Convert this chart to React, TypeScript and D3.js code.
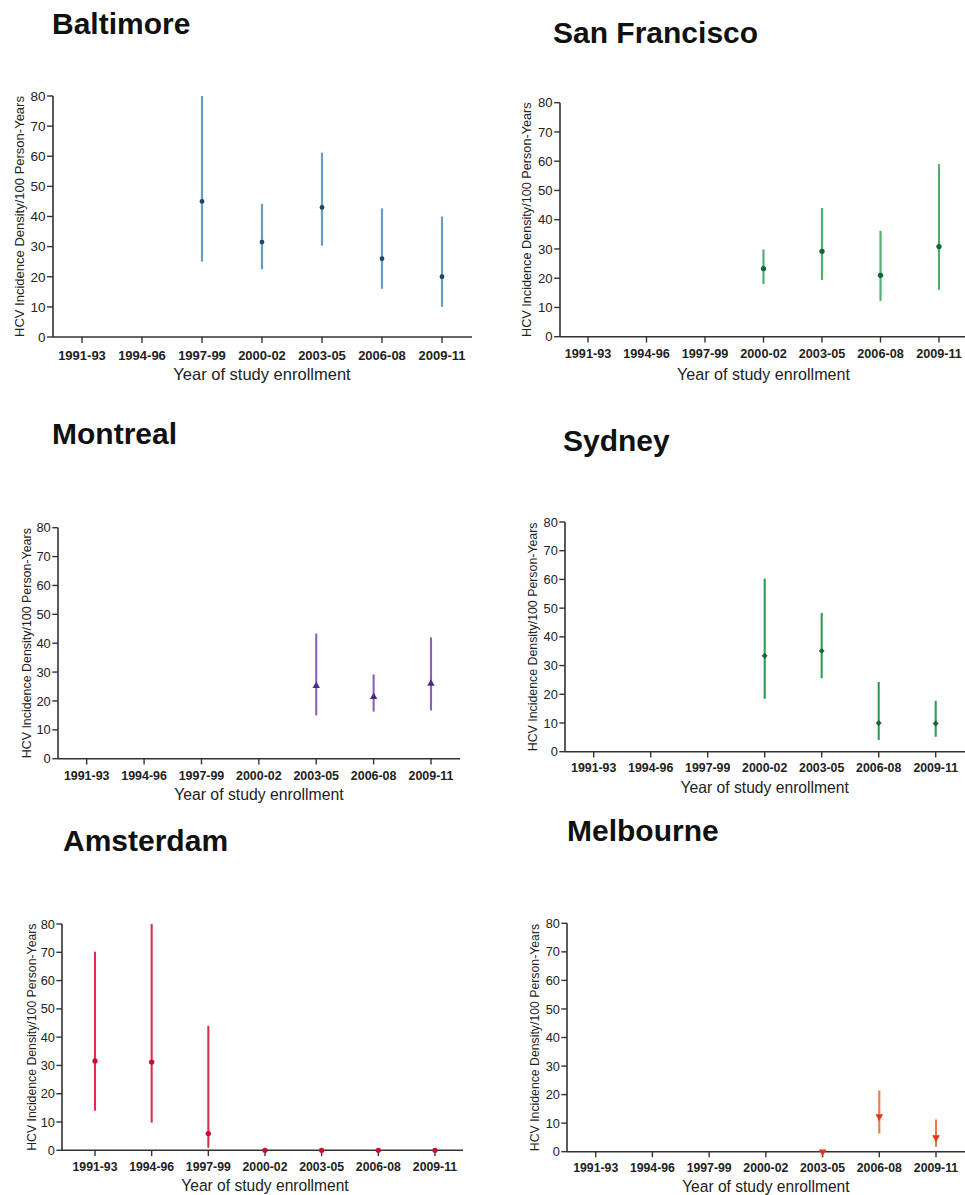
import { scaleLinear, scalePoint, symbol, symbolCircle, symbolTriangle, symbolDiamond2 } from 'd3'

const width = 965,
      height = 1195

const periods = ['1991-93', '1994-96', '1997-99', '2000-02', '2003-05', '2006-08', '2009-11']
const yTicks = [0, 10, 20, 30, 40, 50, 60, 70, 80]

// incidence per 100 person-years, with 95% CI (null = no estimate)
const baltimoreRate = [null, null, 45, 31.5, 43, 26, 20]
const baltimoreLow = [null, null, 25, 22.5, 30.3, 16, 10]
const baltimoreHigh = [null, null, 80, 44.2, 61.2, 42.7, 40]

const sanFranciscoRate = [null, null, null, 23.3, 29.2, 21, 30.8]
const sanFranciscoLow = [null, null, null, 18, 19.4, 12.2, 16]
const sanFranciscoHigh = [null, null, null, 29.8, 44, 36.2, 59]

const montrealRate = [null, null, null, null, 25.2, 21.4, 26]
const montrealLow = [null, null, null, null, 15, 16.3, 16.7]
const montrealHigh = [null, null, null, null, 43.3, 29.2, 42]

const sydneyRate = [null, null, null, 33.4, 35.1, 10, 9.8]
const sydneyLow = [null, null, null, 18.4, 25.6, 4.1, 5.2]
const sydneyHigh = [null, null, null, 60.3, 48.3, 24.3, 17.7]

const amsterdamRate = [31.6, 31.2, 5.9, 0, 0, 0, 0]
const amsterdamLow = [14, 9.8, 0.9, 0, 0, 0, 0]
const amsterdamHigh = [70.2, 80, 44, 0, 0, 0, 0]

const melbourneRate = [null, null, null, null, 0, 12.3, 5]
const melbourneLow = [null, null, null, null, 0, 6.4, 1.7]
const melbourneHigh = [null, null, null, null, 0, 21.4, 11.3]

// layout of each small chart (pixel geometry)
const panels = [
  { title: 'Baltimore', rate: baltimoreRate, low: baltimoreLow, high: baltimoreHigh,
    bar: '#6a9dc1', mark: '#174a6e', shape: 'circle', msize: 18,
    tx: 52, ty: 34, x0: 53, yTop: 96, yBot: 337, xFirst: 82, xLast: 442, xEnd: 472,
    labelX: 19, tickDy: 23, titleDy: 43 },
  { title: 'San  Francisco', rate: sanFranciscoRate, low: sanFranciscoLow, high: sanFranciscoHigh,
    bar: '#4fae6c', mark: '#0a6a34', shape: 'circle', msize: 22,
    tx: 553, ty: 43, x0: 560, yTop: 102.7, yBot: 336.7, xFirst: 588, xLast: 939, xEnd: 965,
    labelX: 527, tickDy: 21.3, titleDy: 43.3 },
  { title: 'Montreal', rate: montrealRate, low: montrealLow, high: montrealHigh,
    bar: '#8d62b6', mark: '#4b2a88', shape: 'up', msize: 24,
    tx: 52, ty: 444, x0: 58, yTop: 527.7, yBot: 758.7, xFirst: 86.7, xLast: 431, xEnd: 460,
    labelX: 27, tickDy: 21.3, titleDy: 41.3 },
  { title: 'Sydney', rate: sydneyRate, low: sydneyLow, high: sydneyHigh,
    bar: '#2f9a52', mark: '#0d6a35', shape: 'diamond', msize: 22,
    tx: 563, ty: 451, x0: 565, yTop: 522, yBot: 751.7, xFirst: 593.7, xLast: 935.7, xEnd: 965,
    labelX: 533, tickDy: 20, titleDy: 41 },
  { title: 'Amsterdam', rate: amsterdamRate, low: amsterdamLow, high: amsterdamHigh,
    bar: '#da2e4c', mark: '#c60f30', shape: 'circle', msize: 22,
    tx: 63, ty: 851, x0: 62, yTop: 924, yBot: 1150.3, xFirst: 95, xLast: 435, xEnd: 463,
    labelX: 32, tickDy: 20.4, titleDy: 40.4 },
  { title: 'Melbourne', rate: melbourneRate, low: melbourneLow, high: melbourneHigh,
    bar: '#f0764a', mark: '#e8341a', shape: 'down', msize: 26,
    tx: 567, ty: 841, x0: 567, yTop: 923.3, yBot: 1151.7, xFirst: 595.7, xLast: 936, xEnd: 965,
    labelX: 535, tickDy: 20, titleDy: 40 },
]

const font = 'Liberation Sans, Arial, sans-serif'
const axisColor = '#333'

const Panel = ({ p }: { p: any }) => {
  const s = (p.xLast - p.xFirst) / 360

  const x = scalePoint<string>()
    .domain(periods)
    .range([p.xFirst, p.xLast])

  const y = scaleLinear()
    .domain([0, 80])
    .range([p.yBot, p.yTop])

  const shapeType = p.shape === 'circle' ? symbolCircle : p.shape === 'diamond' ? symbolDiamond2 : symbolTriangle
  const marker = symbol().type(shapeType).size(p.msize)()

  const tickLen = 6 * s

  return (
    <g>
      <text x={p.tx} y={p.ty} fontFamily={font} fontWeight='bold' fontSize={30} fill='#111'>
        {p.title}
      </text>

      {/* error bars */}
      {periods.map((d, i) => p.rate[i] === null ? null : (
        <line key={'e' + d} x1={x(d)} x2={x(d)} y1={y(p.low[i])} y2={y(p.high[i])}
          stroke={p.bar} strokeWidth={2.2 * s} />
      ))}

      {/* y axis */}
      <line x1={p.x0} x2={p.x0} y1={p.yTop} y2={p.yBot} stroke={axisColor} strokeWidth={1.6} />
      {yTicks.map(t => (
        <g key={'y' + t}>
          <line x1={p.x0 - tickLen} x2={p.x0} y1={y(t)} y2={y(t)} stroke={axisColor} strokeWidth={1.4} />
          <text x={p.x0 - tickLen - 1.5} y={y(t)} dy='0.36em' textAnchor='end'
            fontFamily={font} fontSize={13.5 * s} fill='#222'>{t}</text>
        </g>
      ))}
      <text transform={`translate(${p.labelX}, ${(p.yTop + p.yBot) / 2}) rotate(-90)`}
        textAnchor='middle' dy='0.35em' fontFamily={font} fontSize={13 * s} fill='#222'>
        HCV Incidence Density/100 Person-Years
      </text>

      {/* x axis */}
      <line x1={p.x0} x2={p.xEnd} y1={p.yBot} y2={p.yBot} stroke={axisColor} strokeWidth={1.6} />
      {periods.map(d => (
        <g key={'x' + d}>
          <line x1={x(d)} x2={x(d)} y1={p.yBot} y2={p.yBot + tickLen} stroke={axisColor} strokeWidth={1.4} />
          <text x={x(d)} y={p.yBot + p.tickDy} textAnchor='middle' fontFamily={font}
            fontWeight='bold' fontSize={13 * s} fill='#222'>{d}</text>
        </g>
      ))}
      <text x={(p.xFirst + p.xLast) / 2} y={p.yBot + p.titleDy} textAnchor='middle'
        fontFamily={font} fontSize={16.5 * s} fill='#222'>Year of study enrollment</text>

      {/* point estimates */}
      {periods.map((d, i) => p.rate[i] === null ? null : (
        <path key={'m' + d} d={marker}
          transform={`translate(${x(d)}, ${y(p.rate[i])})${p.shape === 'down' ? ' rotate(180)' : ''}`}
          fill={p.mark} />
      ))}
    </g>
  )
}

export default function App() {
  return (
    <svg width={width} height={height}
      style={{ position: 'absolute', left: 0, top: 0, display: 'block', background: '#fff' }}>
      {panels.map(p => <Panel key={p.title} p={p} />)}
    </svg>
  )
}
